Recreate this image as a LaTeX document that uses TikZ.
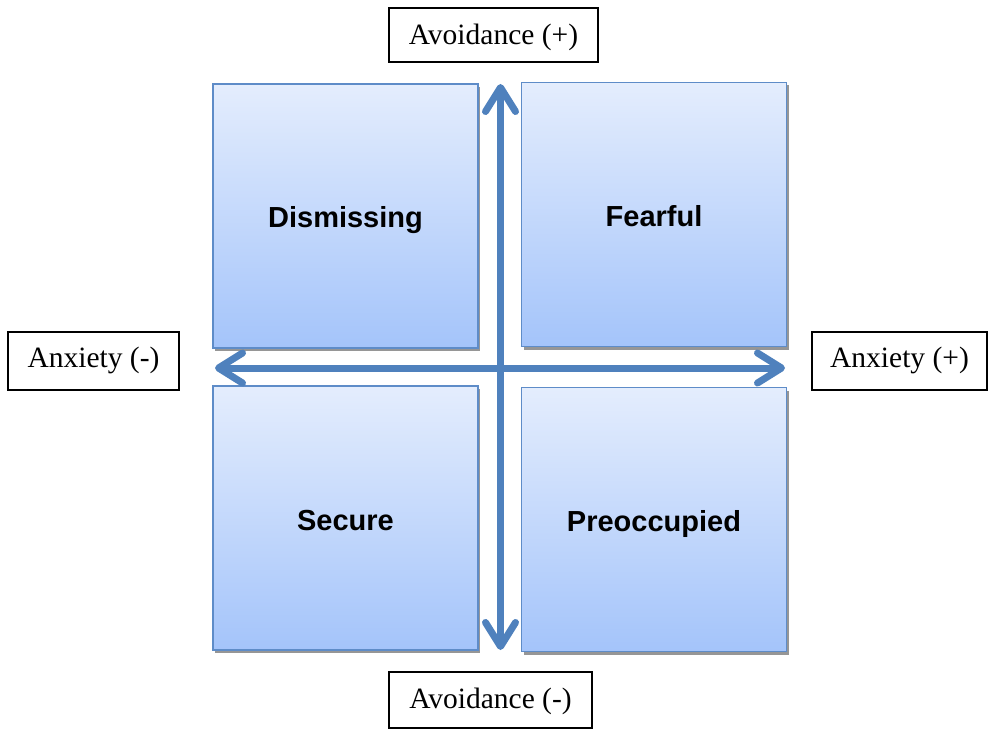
\documentclass[tikz,border=0pt]{standalone}
\usepackage{fontspec}
\setmainfont{Liberation Serif}
\setsansfont{Liberation Sans}
\usetikzlibrary{arrows.meta,shadows}
\definecolor{boxtop}{RGB}{228,237,253}
\definecolor{boxbot}{RGB}{164,196,250}
\definecolor{boxrand}{RGB}{94,140,200}
\definecolor{achse}{RGB}{79,129,189}
\definecolor{schatten}{RGB}{150,150,150}
\newcommand{\feld}{\fontsize{29}{34}\selectfont\sffamily\bfseries}
\newcommand{\achstext}{\fontsize{29.5}{34}\selectfont}
\tikzset{quadrant/.style={draw=boxrand,line width=1.5pt,top color=boxtop,bottom color=boxbot,
    minimum width=265pt,minimum height=264pt,inner sep=0,font=\feld,
    text height=24pt,text depth=0pt,
    drop shadow={shadow xshift=2pt,shadow yshift=-3pt,fill=schatten,opacity=1}},
  achslabel/.style={draw=black,line width=1.2pt,fill=white,inner sep=0,font=\achstext,
    text height=16pt,text depth=0pt},
  achsenpfeil/.style={achse,line width=7pt,
    {Straight Barb[length=24pt,width=30pt,round,line width=0pt 1]}-{Straight Barb[length=24pt,width=30pt,round,line width=0pt 1]}}}

\begin{document}
\begin{tikzpicture}[x=1pt,y=-1pt]
\useasboundingbox (0,0) rectangle (988,730);
% quadrants
\node[quadrant] (dismissing) at (345.5,216) {Dismissing};
\node[quadrant] (fearful) at (654,214.5) {Fearful};
\node[quadrant] (secure) at (345.5,518) {Secure};
\node[quadrant] (preoccupied) at (654,519.5) {Preoccupied};
% axis ends
\coordinate (oben) at (500.5,84);
\coordinate (unten) at (500.5,650);
\coordinate (links) at (215,368);
\coordinate (rechts) at (785,368);
\draw[achsenpfeil] (unten) -- (oben);
\draw[achsenpfeil] (links) -- (rechts);
% axis labels
\node[achslabel,minimum width=209pt,minimum height=54pt,text height=20pt] (avoidplus) at (493.5,35) {Avoidance (+)};
\node[achslabel,minimum width=203pt,minimum height=56pt] (avoidminus) at (490.5,700) {Avoidance (-)};
\node[achslabel,minimum width=171pt,minimum height=58pt,text height=12pt] (anxminus) at (93.5,361) {Anxiety (-)};
\node[achslabel,minimum width=175pt,minimum height=58pt,text height=12pt] (anxplus) at (899.5,361) {Anxiety (+)};
\end{tikzpicture}
\end{document}
